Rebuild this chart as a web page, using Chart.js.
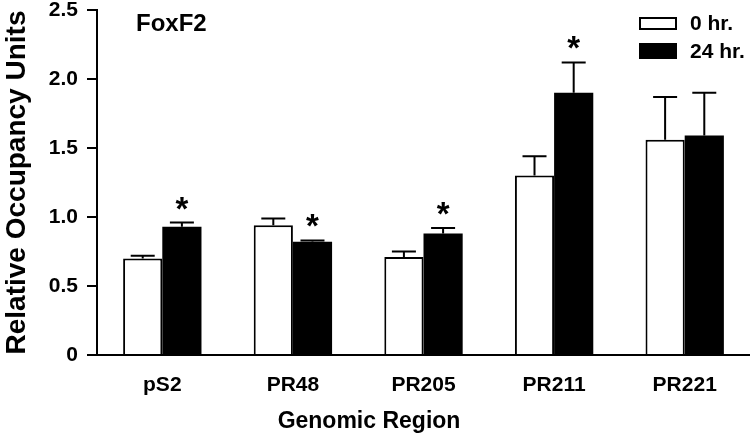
<!DOCTYPE html>
<html>
<head>
<meta charset="utf-8">
<script src="https://cdn.jsdelivr.net/npm/chart.js@4/dist/chart.umd.min.js"></script>
<style>
  html, body { margin: 0; padding: 0; background: #ffffff; }
  #wrap { width: 750px; height: 436px; }
</style>
</head>
<body>
<div id="wrap"><canvas id="chartCanvas" width="750" height="436"></canvas></div>
<script>
/* =========================
   Data
========================= */
const regions = ["pS2", "PR48", "PR205", "PR211", "PR221"];
const hr0 = [0.70, 0.94, 0.71, 1.30, 1.56];
const hr0Err = [0.02, 0.05, 0.04, 0.14, 0.31];
const hr24 = [0.93, 0.82, 0.88, 1.90, 1.59];
const hr24Err = [0.03, 0.01, 0.04, 0.22, 0.31];
const hr24Significant = [true, true, true, true, false];
const yTicks = [0, 0.5, 1.0, 1.5, 2.0, 2.5];

const FONT = "Arial, 'Liberation Sans', sans-serif";

/* =========================
   Error bars + asterisks
========================= */
const errorBarPlugin = {
  id: "errorBars",
  afterDatasetsDraw: (chart) => {
    const ctx = chart.ctx;
    const yScale = chart.scales.y;
    ctx.save();
    ctx.strokeStyle = "#000000";
    ctx.lineWidth = 2;
    chart.data.datasets.forEach((ds, di) => {
      const meta = chart.getDatasetMeta(di);
      meta.data.forEach((bar, i) => {
        const top = yScale.getPixelForValue(ds.data[i] + ds.errors[i]);
        const base = yScale.getPixelForValue(ds.data[i]);
        ctx.beginPath();
        ctx.moveTo(bar.x, base);
        ctx.lineTo(bar.x, top);
        ctx.moveTo(bar.x - 12, top);
        ctx.lineTo(bar.x + 12, top);
        ctx.stroke();
        if (ds.stars && ds.stars[i]) {
          ctx.fillStyle = "#000000";
          ctx.font = "bold 33px " + FONT;
          ctx.textAlign = "center";
          ctx.textBaseline = "alphabetic";
          ctx.fillText("*", bar.x, top - 3);
        }
      });
    });
    ctx.restore();
  }
};

/* =========================
   Titles, legend
========================= */
const annotationPlugin = {
  id: "annotations",
  afterDraw: (chart) => {
    const ctx = chart.ctx;
    const area = chart.chartArea;
    ctx.save();
    ctx.fillStyle = "#000000";

    // panel label
    ctx.font = "bold 24px " + FONT;
    ctx.textAlign = "left";
    ctx.textBaseline = "alphabetic";
    ctx.fillText("FoxF2", 136, 31);

    // x title
    ctx.font = "bold 23px " + FONT;
    ctx.textAlign = "center";
    ctx.fillText("Genomic Region", 369, 428);

    // y title
    ctx.save();
    ctx.translate(25, (area.top + area.bottom) / 2);
    ctx.rotate(-Math.PI / 2);
    ctx.font = "bold 28px " + FONT;
    ctx.textAlign = "center";
    ctx.fillText("Relative Occupancy Units", 0, 0);
    ctx.restore();

    // legend
    const boxes = [{ y: 18, h: 11 }, { y: 44, h: 14 }];
    chart.data.datasets.forEach((ds, i) => {
      const b = boxes[i];
      ctx.fillStyle = ds.backgroundColor;
      ctx.fillRect(640, b.y, 36, b.h);
      ctx.strokeStyle = "#000000";
      ctx.lineWidth = 2;
      ctx.strokeRect(640, b.y, 36, b.h);
      ctx.fillStyle = "#000000";
      ctx.font = "bold 21px " + FONT;
      ctx.textAlign = "left";
      ctx.textBaseline = "middle";
      ctx.fillText(ds.label, 690, b.y + b.h / 2 + 1);
    });
    ctx.restore();
  }
};

/* =========================
   Chart
========================= */
const ctx = document.getElementById("chartCanvas").getContext("2d");
new Chart(ctx, {
  type: "bar",
  data: {
    labels: regions,
    datasets: [
      {
        label: "0 hr.",
        data: hr0,
        errors: hr0Err,
        backgroundColor: "#ffffff",
        borderColor: "#000000",
        borderWidth: 2
      },
      {
        label: "24 hr.",
        data: hr24,
        errors: hr24Err,
        stars: hr24Significant,
        backgroundColor: "#000000",
        borderColor: "#000000",
        borderWidth: 0
      }
    ]
  },
  options: {
    responsive: false,
    animation: false,
    layout: { padding: { left: 0, top: 10, right: 0, bottom: 0 } },
    categoryPercentage: 0.6,
    barPercentage: 1.0,
    plugins: {
      legend: { display: false },
      tooltip: { enabled: false }
    },
    scales: {
      x: {
        grid: { display: false },
        border: { display: true, color: "#000000", width: 2 },
        ticks: {
          color: "#000000",
          font: { family: FONT, size: 21, weight: "bold" },
          padding: 10
        },
        afterFit: (scale) => {
          scale.height = 81;
          scale.paddingLeft = 0;
          scale.paddingRight = 0;
        }
      },
      y: {
        min: 0,
        max: 2.5,
        afterBuildTicks: (scale) => {
          scale.ticks = yTicks.map(v => ({ value: v }));
        },
        grid: {
          display: true,
          drawOnChartArea: false,
          drawTicks: true,
          tickLength: 10,
          color: "#000000",
          lineWidth: 2
        },
        border: { display: true, color: "#000000", width: 2 },
        ticks: {
          color: "#000000",
          font: { family: FONT, size: 21, weight: "bold" },
          padding: 9,
          callback: (v) => (v === 0 ? "0" : Number(v).toFixed(1))
        },
        afterFit: (scale) => {
          scale.width = 97;
          scale.paddingTop = 0;
          scale.paddingBottom = 0;
        }
      }
    }
  },
  plugins: [errorBarPlugin, annotationPlugin]
});
</script>
</body>
</html>
